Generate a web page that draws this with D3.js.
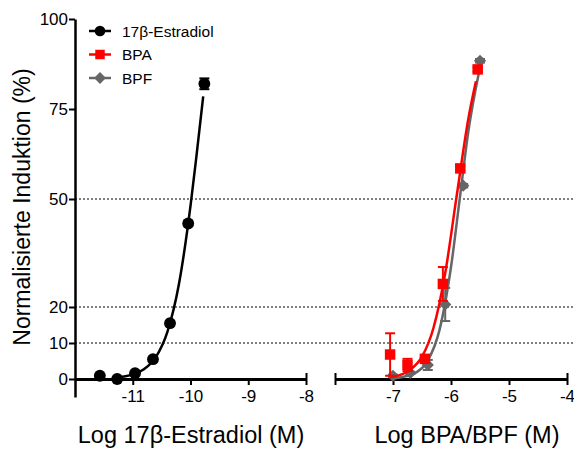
<!DOCTYPE html>
<html>
<head>
<meta charset="utf-8">
<script src="https://cdn.jsdelivr.net/npm/d3@7"></script>
<style>
  body { margin: 0; background: #fff; }
  svg text { font-family: Arial, "Liberation Sans", sans-serif; }
</style>
</head>
<body>
<div id="chart"></div>
<script>
// measured points (log M, % induction)
var e2X    = [-11.57, -11.27, -10.96, -10.65, -10.355, -10.04, -9.76];
var e2Y    = [0.9, 0, 1.6, 5.5, 15.5, 43.2, 82];
var e2Err  = [0.3, 0.3, 0.3, 0.4, 0.5, 0.6, 1.5];

var bpaX   = [-7.05, -6.75, -6.45, -6.14, -5.84, -5.54];
var bpaY   = [6.8, 3.9, 5.6, 26.4, 58.5, 86];
var bpaErr = [5.9, 1.7, 0.5, 4.7, 0.6, 0.6];

var bpfX   = [-7.0, -6.7, -6.4, -6.1, -5.79, -5.5];
var bpfY   = [0.9, 1.7, 3.9, 20.7, 53.7, 88.4];
var bpfErr = [0.3, 0.3, 1.4, 4.6, 0.5, 0.5];

// fitted curves
var e2FitX  = [-11.3, -11.0, -10.8, -10.6, -10.4, -10.2, -10.0, -9.9, -9.78];
var e2FitY  = [0.4, 1.3, 2.8, 6.1, 13.1, 26.4, 48.1, 61.5, 78.5];
var bpaFitX = [-7.05, -6.9, -6.7, -6.5, -6.3, -6.1, -5.9, -5.7, -5.57];
var bpaFitY = [0.5, 1.0, 2.6, 6.2, 14.3, 29.4, 51.1, 72.4, 82.7];
var bpfFitX = [-7.0, -6.8, -6.6, -6.4, -6.2, -6.0, -5.85, -5.7, -5.51];
var bpfFitY = [0.2, 0.7, 1.8, 5.1, 13.5, 31.1, 50, 68.9, 85.8];

var yTicks  = [0, 10, 20, 50, 75, 100];
var gridAt  = [10, 20, 50];
var xTicksL = [-11, -10, -9, -8];
var xTicksR = [-8, -7, -6, -5, -4];

var svg = d3.select("#chart").append("svg")
    .attr("width", 574)
    .attr("height", 449);

var y  = d3.scaleLinear().domain([-5, 100]).range([397, 19]);
var xL = d3.scaleLinear().domain([-12, -8]).range([75, 306]);
var xR = d3.scaleLinear().domain([-8, -4]).range([335, 567]);

// diamond = square turned 45deg
var diamond = {
  draw: function(ctx, size) {
    var r = Math.sqrt(size / 2);
    ctx.moveTo(0, -r); ctx.lineTo(r, 0); ctx.lineTo(0, r); ctx.lineTo(-r, 0); ctx.closePath();
  }
};

// dotted grid lines
svg.selectAll(".grid")
    .data(gridAt)
    .enter().append("line")
    .attr("x1", 75).attr("x2", 574)
    .attr("y1", function(d){ return y(d); })
    .attr("y2", function(d){ return y(d); })
    .style("stroke", "#000")
    .style("stroke-width", 1)
    .style("stroke-dasharray", "2,2");

// y axis
var yAxis = svg.append("g")
    .attr("transform", "translate(75,0)")
    .call(d3.axisLeft(y).tickValues(yTicks).tickSize(6).tickSizeOuter(0).tickFormat(function(d){ return String(d); }));
yAxis.select(".domain").style("stroke-width", 2.5);
yAxis.selectAll(".tick line").style("stroke-width", 2);
yAxis.selectAll(".tick text").style("font-size", "17px").attr("x", -7);

// x axes
function xAxis(scale, ticks, showFirst) {
  var g = svg.append("g")
      .attr("transform", "translate(0," + y(0) + ")")
      .call(d3.axisBottom(scale).tickValues(ticks).tickSize(6).tickSizeOuter(0)
        .tickFormat(function(d, i){ return (i == 0 && !showFirst) ? "" : String(d); }));
  g.select(".domain").style("stroke-width", 3);
  g.selectAll(".tick line").style("stroke-width", 2);
  g.selectAll(".tick text").style("font-size", "17px").attr("y", 11);
  return g;
}
var axL = xAxis(xL, xTicksL, true);
var axR = xAxis(xR, xTicksR, false);
// end caps
axL.selectAll(".tick line").filter(function(d){ return d == -8; }).attr("y1", -6);
axR.selectAll(".tick line").filter(function(d){ return d == -8 || d == -4; }).attr("y1", -6);

// axis titles
svg.append("text")
    .attr("transform", "translate(30,207) rotate(-90)")
    .attr("text-anchor", "middle")
    .style("font-size", "23px")
    .text("Normalisierte Induktion (%)");
svg.append("text")
    .attr("x", 191).attr("y", 443)
    .attr("text-anchor", "middle")
    .style("font-size", "23.5px")
    .text("Log 17β-Estradiol (M)");
svg.append("text")
    .attr("x", 467).attr("y", 443)
    .attr("text-anchor", "middle")
    .style("font-size", "23.5px")
    .text("Log BPA/BPF (M)");

var series = [
  {name: "BPF", xs: bpfX, ys: bpfY, err: bpfErr, fx: bpfFitX, fy: bpfFitY, sx: xR, color: "#666666", sym: diamond, size: 75},
  {name: "BPA", xs: bpaX, ys: bpaY, err: bpaErr, fx: bpaFitX, fy: bpaFitY, sx: xR, color: "#ff0000", sym: d3.symbolSquare, size: 110},
  {name: "17β-Estradiol", xs: e2X, ys: e2Y, err: e2Err, fx: e2FitX, fy: e2FitY, sx: xL, color: "#000000", sym: d3.symbolCircle, size: 110}
];

series.forEach(function(s){
  var pts = s.xs.map(function(v, i){ return {x: v, y: s.ys[i], e: s.err[i]}; });
  var fit = s.fx.map(function(v, i){ return [v, s.fy[i]]; });

  var line = d3.line()
      .x(function(d){ return s.sx(d[0]); })
      .y(function(d){ return y(d[1]); })
      .curve(d3.curveMonotoneX);
  svg.append("path")
      .datum(fit)
      .attr("d", line)
      .style("fill", "none")
      .style("stroke", s.color)
      .style("stroke-width", 2.5);

  // error bars
  var eb = svg.append("g").selectAll("g").data(pts).enter().append("g");
  eb.append("line")
      .attr("x1", function(d){ return s.sx(d.x); })
      .attr("x2", function(d){ return s.sx(d.x); })
      .attr("y1", function(d){ return y(d.y - d.e); })
      .attr("y2", function(d){ return y(d.y + d.e); })
      .style("stroke", s.color).style("stroke-width", 2);
  [-1, 1].forEach(function(sign){
    eb.append("line")
        .attr("x1", function(d){ return s.sx(d.x) - 5; })
        .attr("x2", function(d){ return s.sx(d.x) + 5; })
        .attr("y1", function(d){ return y(d.y + sign * d.e); })
        .attr("y2", function(d){ return y(d.y + sign * d.e); })
        .style("stroke", s.color).style("stroke-width", 2);
  });

  svg.append("g").selectAll("path").data(pts).enter().append("path")
      .attr("d", d3.symbol().type(s.sym).size(s.size))
      .attr("transform", function(d){ return "translate(" + s.sx(d.x) + "," + y(d.y) + ")"; })
      .style("fill", s.color);
});

// legend
var legend = [
  {name: "17β-Estradiol", color: "#000000", sym: d3.symbolCircle, size: 90},
  {name: "BPA", color: "#ff0000", sym: d3.symbolSquare, size: 90},
  {name: "BPF", color: "#666666", sym: diamond, size: 70}
];
var lg = svg.selectAll(".lg").data(legend).enter().append("g")
    .attr("transform", function(d, i){ return "translate(100," + (31 + i * 23.5) + ")"; });
lg.append("line")
    .attr("x1", -11).attr("x2", 11)
    .style("stroke", function(d){ return d.color; })
    .style("stroke-width", 2.5);
lg.append("path")
    .attr("d", function(d){ return d3.symbol().type(d.sym).size(d.size)(); })
    .style("fill", function(d){ return d.color; });
lg.append("text")
    .attr("x", 22).attr("y", 5.5)
    .style("font-size", "15.5px")
    .text(function(d){ return d.name; });
</script>
</body>
</html>
